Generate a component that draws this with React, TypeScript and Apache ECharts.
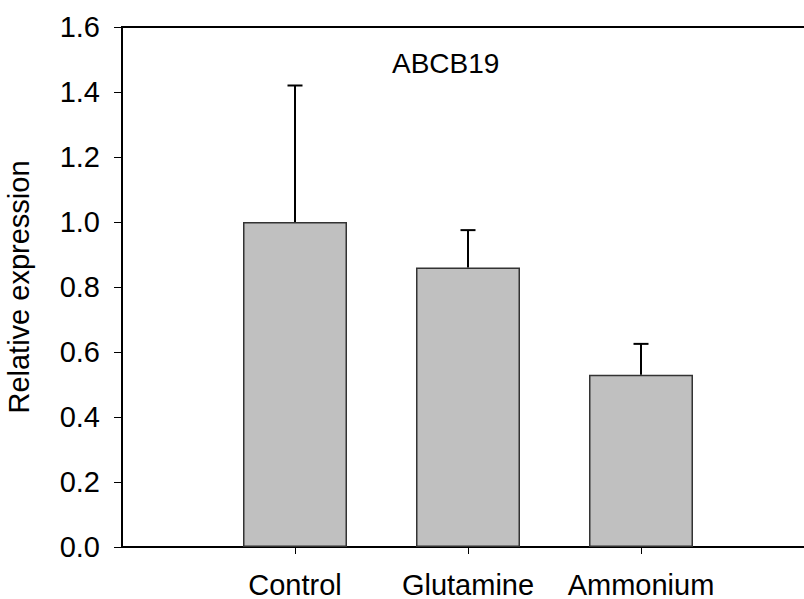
import React, { useEffect, useRef } from "react";
import * as echarts from "echarts";

const categories = ["Control", "Glutamine", "Ammonium"];
const means = [1.0, 0.86, 0.53];
const upperErrors = [1.42, 0.975, 0.625];
const yTicks = [0, 0.2, 0.4, 0.6, 0.8, 1.0, 1.2, 1.4, 1.6];
const chartTitle = "ABCB19";
const yAxisTitle = "Relative expression";

const FONT = "Liberation Sans, Arial, Helvetica, sans-serif";

export default function App() {
  const ref = useRef<HTMLDivElement>(null);
  useEffect(() => {
    document.body.style.margin = "0";
    if (!ref.current) return;
    const chart = echarts.init(ref.current, null, { renderer: "svg" });
    const positions = categories.map((_, i) => i + 1);
    const barData = positions.map((p, i) => [p, means[i]]);
    const errData = positions.map((p, i) => [p, means[i], upperErrors[i]]);
    chart.setOption({
      animation: false,
      backgroundColor: "#ffffff",
      grid: {
        left: 122,
        top: 27,
        width: 692,
        height: 520,
        containLabel: false,
        outerBoundsMode: "none",
        show: true,
        borderColor: "#000",
        borderWidth: 2,
        backgroundColor: "transparent",
      },
      graphic: [
        {
          type: "text",
          left: 392,
          top: 49,
          style: {
            text: chartTitle,
            font: `28px ${FONT}`,
            fill: "#000",
          },
        },
      ],
      xAxis: {
        type: "value",
        min: 0,
        max: 4,
        interval: 1,
        splitLine: { show: false },
        axisLine: { show: true, onZero: false, lineStyle: { color: "#000", width: 2 } },
        axisTick: {
          show: true,
          customValues: positions,
          length: 7,
          lineStyle: { color: "#000", width: 1 },
        },
        axisLabel: {
          customValues: positions,
          margin: 23,
          fontSize: 29,
          fontFamily: FONT,
          color: "#000",
          formatter: (v: number) => categories[Math.round(v) - 1] ?? "",
        },
      },
      yAxis: {
        type: "value",
        min: 0,
        max: 1.6,
        interval: 0.2,
        name: yAxisTitle,
        nameLocation: "middle",
        nameGap: 89,
        nameTextStyle: { fontSize: 29, fontFamily: FONT, color: "#000" },
        splitLine: { show: false },
        axisLine: { show: true, lineStyle: { color: "#000", width: 2 } },
        axisTick: { show: true, length: 8, lineStyle: { color: "#000", width: 1 } },
        axisLabel: {
          margin: 22,
          fontSize: 29,
          fontFamily: FONT,
          color: "#000",
          formatter: (v: number) => {
            const t = yTicks.find((x) => Math.abs(x - v) < 1e-9);
            return (t ?? v).toFixed(1);
          },
        },
      },
      series: [
        {
          type: "bar",
          data: barData,
          barWidth: 104,
          itemStyle: { color: "#c0c0c0", borderColor: "#333", borderWidth: 1.5 },
          z: 2,
        },
        {
          type: "custom",
          data: errData,
          z: 3,
          renderItem: (params: any, api: any) => {
            const x = api.value(0);
            const base = api.coord([x, api.value(1)]);
            const top = api.coord([x, api.value(2)]);
            const capHalf = 7.5;
            return {
              type: "group",
              children: [
                {
                  type: "line",
                  shape: { x1: base[0], y1: base[1], x2: top[0], y2: top[1] },
                  style: { stroke: "#000", lineWidth: 2 },
                },
                {
                  type: "line",
                  shape: { x1: top[0] - capHalf, y1: top[1], x2: top[0] + capHalf, y2: top[1] },
                  style: { stroke: "#000", lineWidth: 2 },
                },
              ],
            };
          },
        },
      ],
    });
    return () => chart.dispose();
  }, []);
  return <div ref={ref} style={{ width: 804, height: 599 }} />;
}
